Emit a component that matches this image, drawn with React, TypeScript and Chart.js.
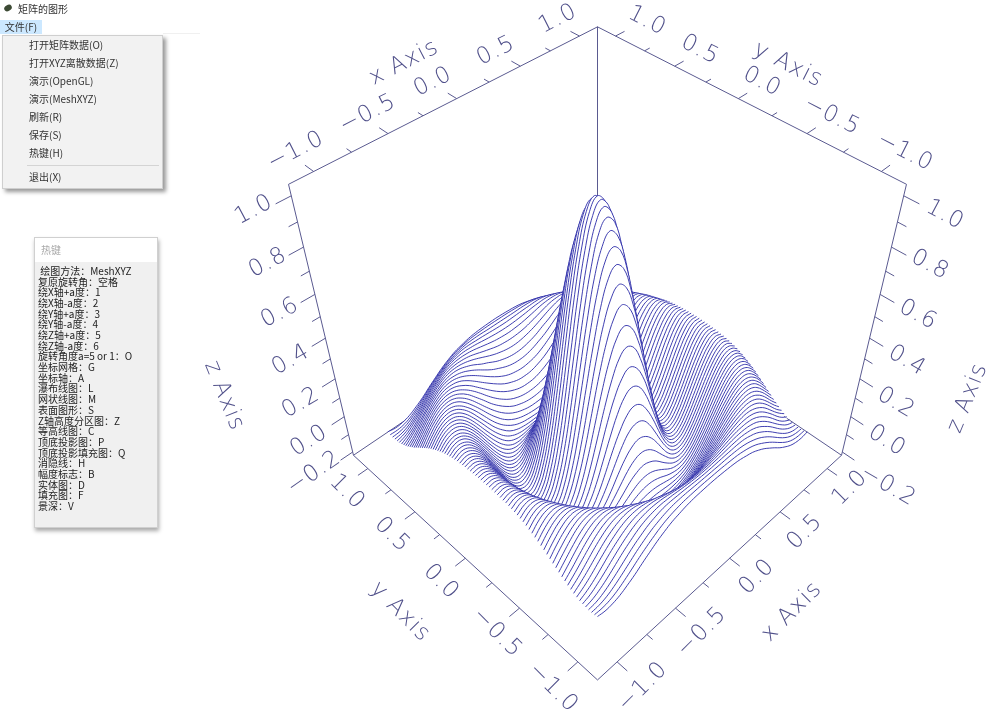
import React, { useEffect, useRef } from 'react';
import Chart from 'chart.js/auto';

// grid of the waterfall lines (same units as the source matrix, -8..8)
const gridX = [-8,-7.5,-7,-6.5,-6,-5.5,-5,-4.5,-4,-3.5,-3,-2.5,-2,-1.5,-1,-0.5,0,0.5,1,1.5,2,2.5,3,3.5,4,4.5,5,5.5,6,6.5,7,7.5,8];
const yLines = [-8,-7.8,-7.6,-7.4,-7.2,-7,-6.8,-6.6,-6.4,-6.2,-6,-5.8,-5.6,-5.4,-5.2,-5,-4.8,-4.6,-4.4,-4.2,-4,-3.8,-3.6,-3.4,-3.2,-3,-2.8,-2.6,-2.4,-2.2,-2,-1.8,-1.6,-1.4,-1.2,-1,-0.8,-0.6,-0.4,-0.2,0,0.2,0.4,0.6,0.8,1,1.2,1.4,1.6,1.8,2,2.2,2.4,2.6,2.8,3,3.2,3.4,3.6,3.8,4,4.2,4.4,4.6,4.8,5,5.2,5.4,5.6,5.8,6,6.2,6.4,6.6,6.8,7,7.2,7.4,7.6,7.8,8];

// surface heights in thousandths, one list per |y| step
const row00 = [124,125,94,33,-47,-128,-192,-217,-189,-100,47,239,455,665,841,959,1000,959,841,665,455,239,47,-100,-189,-217,-192,-128,-47,33,94,125,124];
const row01 = [124,125,94,33,-47,-128,-192,-217,-190,-102,44,235,451,661,835,952,993,952,835,661,451,235,44,-102,-190,-217,-192,-128,-47,33,94,125,124];
const row02 = [123,125,95,34,-45,-126,-190,-217,-191,-105,36,226,437,644,816,933,974,933,816,644,437,226,36,-105,-191,-217,-190,-126,-45,34,95,125,123];
const row03 = [123,125,96,37,-42,-123,-188,-217,-195,-113,26,210,416,616,786,902,941,902,786,616,416,210,26,-113,-195,-217,-188,-123,-42,37,96,125,123];
const row04 = [122,126,98,40,-39,-119,-186,-216,-198,-121,10,189,389,583,749,856,897,856,749,583,389,189,10,-121,-198,-216,-186,-119,-39,40,98,126,122];
const row05 = [121,126,100,44,-34,-114,-181,-216,-202,-131,-6,162,351,541,699,805,841,805,699,541,351,162,-6,-131,-202,-216,-181,-114,-34,44,100,126,121];
const row06 = [120,127,103,48,-26,-108,-177,-213,-206,-143,-27,131,312,488,640,741,777,741,640,488,312,131,-27,-143,-206,-213,-177,-108,-26,48,103,127,120];
const row07 = [118,127,105,54,-20,-99,-171,-212,-210,-155,-50,95,265,433,575,669,704,669,575,433,265,95,-50,-155,-210,-212,-171,-99,-20,54,105,127,118];
const row08 = [116,127,108,59,-11,-91,-164,-208,-213,-169,-75,57,214,372,503,591,625,591,503,372,214,57,-75,-169,-213,-208,-164,-91,-11,59,108,127,116];
const row09 = [115,128,112,66,-3,-81,-155,-204,-216,-182,-100,20,162,306,428,510,541,510,428,306,162,20,-100,-182,-216,-204,-155,-81,-3,66,112,128,115];
const row10 = [112,128,115,73,6,-72,-145,-199,-217,-192,-125,-18,109,239,351,428,455,428,351,239,109,-18,-125,-192,-217,-199,-145,-72,6,73,115,128,112];
const row11 = [109,128,119,79,17,-60,-134,-191,-216,-202,-147,-56,57,174,274,341,368,341,274,174,57,-56,-147,-202,-216,-191,-134,-60,17,79,119,128,109];
const row12 = [105,127,121,87,27,-47,-120,-181,-213,-210,-167,-92,7,108,198,259,281,259,198,108,7,-92,-167,-210,-213,-181,-120,-47,27,87,121,127,105];
const row13 = [101,125,125,94,38,-34,-106,-170,-209,-215,-186,-125,-42,47,123,178,198,178,123,47,-42,-125,-186,-215,-209,-170,-106,-34,38,94,125,125,101];
const row14 = [96,123,126,101,50,-18,-91,-157,-202,-217,-200,-152,-86,-12,57,105,120,105,57,-12,-86,-152,-200,-217,-202,-157,-91,-18,50,101,126,123,96];
const row15 = [91,120,127,107,62,-3,-75,-141,-192,-216,-210,-178,-125,-62,-6,32,47,32,-6,-62,-125,-178,-210,-216,-192,-141,-75,-3,62,107,127,120,91];
const row16 = [84,117,128,114,73,12,-57,-125,-179,-211,-216,-195,-155,-108,-62,-30,-18,-30,-62,-108,-155,-195,-216,-211,-179,-125,-57,12,73,114,128,117,84];
const row17 = [76,113,128,119,84,30,-39,-106,-164,-202,-217,-209,-182,-147,-110,-86,-75,-86,-110,-147,-182,-209,-217,-202,-164,-106,-39,30,84,119,128,113,76];
const row18 = [69,108,127,123,94,43,-20,-87,-146,-190,-213,-215,-202,-176,-150,-130,-123,-130,-150,-176,-202,-215,-213,-190,-146,-87,-20,43,94,123,127,108,69];
const row19 = [60,101,125,126,103,58,-2,-66,-125,-173,-205,-217,-212,-199,-180,-166,-161,-166,-180,-199,-212,-217,-205,-173,-125,-66,-2,58,103,126,125,101,60];
const row20 = [52,94,121,127,111,73,18,-44,-103,-154,-192,-212,-217,-211,-201,-192,-189,-192,-201,-211,-217,-212,-192,-154,-103,-44,18,73,111,127,121,94,52];
const row21 = [42,85,116,128,118,86,37,-20,-80,-133,-175,-201,-214,-217,-214,-209,-207,-209,-214,-217,-214,-201,-175,-133,-80,-20,37,86,118,128,116,85,42];
const row22 = [32,76,111,127,123,98,56,1,-55,-109,-152,-186,-205,-214,-217,-216,-216,-216,-217,-214,-205,-186,-152,-109,-55,1,56,98,123,127,111,76,32];
const row23 = [21,66,103,125,126,107,71,24,-30,-84,-130,-165,-190,-205,-212,-215,-216,-215,-212,-205,-190,-165,-130,-84,-30,24,71,107,126,125,103,66,21];
const row24 = [10,57,95,120,128,117,87,44,-5,-57,-103,-142,-170,-189,-200,-206,-208,-206,-200,-189,-170,-142,-103,-57,-5,44,87,117,128,120,95,57,10];
const row25 = [-1,45,85,115,128,123,100,64,18,-30,-75,-114,-145,-167,-181,-190,-192,-190,-181,-167,-145,-114,-75,-30,18,64,100,123,128,115,85,45,-1];
const row26 = [-12,32,74,108,125,126,111,82,41,-2,-47,-85,-117,-142,-157,-167,-170,-167,-157,-142,-117,-85,-47,-2,41,82,111,126,125,108,74,32,-12];
const row27 = [-23,20,62,98,121,128,119,96,64,25,-17,-55,-87,-113,-130,-140,-143,-140,-130,-113,-87,-55,-17,25,64,96,119,128,121,98,62,20,-23];
const row28 = [-35,7,50,87,114,127,125,108,82,47,11,-24,-55,-80,-98,-110,-113,-110,-98,-80,-55,-24,11,47,82,108,125,127,114,87,50,7,-35];
const row29 = [-44,-6,36,75,105,124,127,119,98,69,37,6,-23,-48,-65,-77,-80,-77,-65,-48,-23,6,37,69,98,119,127,124,105,75,36,-6,-44];
const row30 = [-54,-18,22,61,95,118,128,125,111,89,62,33,6,-17,-34,-43,-47,-43,-34,-17,6,33,62,89,111,125,128,118,95,61,22,-18,-54];
const row31 = [-63,-31,8,48,83,110,125,127,120,104,83,58,34,16,0,-10,-13,-10,0,16,34,58,83,104,120,127,125,110,83,48,8,-31,-63];
const row32 = [-71,-41,-6,32,69,98,118,128,127,116,100,79,62,43,30,21,18,21,30,43,62,79,100,116,127,128,118,98,69,32,-6,-41,-71];
const row33 = [-78,-53,-20,18,54,86,110,124,128,124,114,100,84,69,58,50,47,50,58,69,84,100,114,124,128,124,110,86,54,18,-20,-53,-78];
const row34 = [-84,-63,-34,2,39,71,98,117,126,127,123,113,101,90,80,75,73,75,80,90,101,113,123,127,126,117,98,71,39,2,-34,-63,-84];
const row35 = [-87,-72,-45,-13,22,56,85,108,121,127,127,123,115,107,100,96,94,96,100,107,115,123,127,127,121,108,85,56,22,-13,-45,-72,-87];
const row36 = [-90,-79,-57,-28,6,40,69,95,113,123,128,127,124,119,115,112,111,112,115,119,124,127,128,123,113,95,69,40,6,-28,-57,-79,-90];
const row37 = [-91,-85,-68,-42,-11,22,53,79,101,115,125,128,127,126,124,122,121,122,124,126,127,128,125,115,101,79,53,22,-11,-42,-68,-85,-91];
const row38 = [-91,-88,-76,-54,-26,5,36,63,86,103,116,124,127,128,127,127,127,127,127,128,127,124,116,103,86,63,36,5,-26,-54,-76,-88,-91];
const row39 = [-89,-90,-83,-66,-41,-12,18,45,69,90,105,115,122,125,127,128,128,128,127,125,122,115,105,90,69,45,18,-12,-41,-66,-83,-90,-89];
const row40 = [-84,-91,-87,-75,-54,-30,-1,26,52,73,91,102,112,118,121,123,124,123,121,118,112,102,91,73,52,26,-1,-30,-54,-75,-87,-91,-84];

// one list per entry of yLines, front line first
const lineRows = [
  row40,row39,row38,row37,row36,row35,row34,row33,row32,row31,row30,row29,row28,row27,row26,row25,row24,row23,row22,row21,
  row20,row19,row18,row17,row16,row15,row14,row13,row12,row11,row10,row09,row08,row07,row06,row05,row04,row03,row02,row01,
  row00,
  row01,row02,row03,row04,row05,row06,row07,row08,row09,row10,row11,row12,row13,row14,row15,row16,row17,row18,row19,row20,
  row21,row22,row23,row24,row25,row26,row27,row28,row29,row30,row31,row32,row33,row34,row35,row36,row37,row38,row39,row40,
];

const axisTicks = [-1,-0.75,-0.5,-0.25,0,0.25,0.5,0.75,1];
const heightTicks = [-0.2,-0.1,0,0.1,0.2,0.3,0.4,0.5,0.6,0.7,0.8,0.9,1];

const menuItems = ['打开矩阵数据(O)','打开XYZ离散数据(Z)','演示(OpenGL)','演示(MeshXYZ)','刷新(R)','保存(S)','热键(H)'];
const hotkeys = [
  ' 绘图方法：MeshXYZ','复原旋转角：空格','绕X轴+a度：1','绕X轴-a度：2','绕Y轴+a度：3','绕Y轴-a度：4','绕Z轴+a度：5','绕Z轴-a度：6',
  '旋转角度a=5 or 1：O','坐标网格：G','坐标轴：A','瀑布线图：L','网状线图：M','表面图形：S','Z轴高度分区图：Z','等高线图：C',
  '顶底投影图：P','顶底投影填充图：Q','消隐线：H','幅度标志：B','实体图：D','填充图：F','景深：V',
];

// text, centre x, centre y, rotation in degrees
const axisLabels: [string, number, number, number][] = [
  ['−1.0',296,151,-27],['−0.5',368,114,-27],['0.0',433,82,-27],['0.5',496,51,-27],['1.0',558,19,-27],['x Axis',404,63,-27],
  ['1.0',647,21,27],['0.5',700,50,27],['0.0',762,82,27],['−0.5',832,116,27],['−1.0',905,152,27],['y Axis',788,65,27],
  ['1.0',254,210,-28],['0.8',268,263,-28],['0.6',280,313,-28],['0.4',291,360,-30],['0.2',301,403,-30],['0.0',309,441,-32],['−0.2',314,473,-35],
  ['1.0',945,215,28],['0.8',930,265,28],['0.6',918,315,28],['0.4',907,361,30],['0.2',896,403,30],['0.0',887,441,32],['−0.2',888,486,30],
  ['z Axis',224,396,68],['z Axis',968,398,-68],
  ['1.0',347,492,45],['0.5',392,535,45],['0.0',441,582,45],['−0.5',497,633,45],['−1.0',553,688,45],['y Axis',400,612,45],
  ['1.0',850,488,-45],['0.5',805,532,-45],['0.0',757,577,-45],['−0.5',702,632,-45],['−1.0',643,687,-45],['x Axis',792,612,-45],
];

// camera fitted to the box corners in the picture
const SIN_E = 0.704, COS_E = 0.71, DIST = 5.85, FOCAL = 1128, CX = 597.5, CY = 335.7;
const BOX_H = 0.976, TICK_SCALE = 1 / 1.16, SURFACE_SCALE = 0.84 / 8;
const boxZ = (z: number) => 0.91 + (z - 1) * 1.547;

function project(nx: number, ny: number, nz: number) {
  const s = (nx - ny) / Math.SQRT2;
  const t = (nx + ny) / Math.SQRT2;
  const v = t * SIN_E + nz * COS_E;
  const w = -t * COS_E + nz * SIN_E;
  const k = FOCAL / (DIST - w);
  return { x: CX + s * k, y: CY - v * k };
}

const GAP = { x: NaN, y: NaN };
const AXIS_COLOR = '#5a5a90';
const MESH_COLOR = '#2a2aa8';

function buildTicks() {
  const pts: { x: number; y: number }[] = [];
  const seg = (a: number[], b: number[]) => pts.push(project(a[0], a[1], a[2]), project(b[0], b[1], b[2]), GAP);
  axisTicks.forEach(t => {
    const len = Number.isInteger(t * 2) ? 0.07 : 0.04;
    const p = t * TICK_SCALE;
    seg([p, 1, BOX_H], [p, 1 + len, BOX_H]);
    seg([p, -1, -BOX_H], [p, -1 - len, -BOX_H]);
    seg([-1, p, -BOX_H], [-1 - len, p, -BOX_H]);
    seg([1, p, BOX_H], [1 + len, p, BOX_H]);
  });
  heightTicks.forEach((z, i) => {
    const len = i % 2 === 0 ? 0.085 : 0.05;
    seg([-1, 1, boxZ(z)], [-1 - len, 1, boxZ(z)]);
    seg([1, -1, boxZ(z)], [1, -1 - len, boxZ(z)]);
  });
  return pts;
}

function edges(list: number[][][]) {
  const pts: { x: number; y: number }[] = [];
  list.forEach(([a, b]) => pts.push(project(a[0], a[1], a[2]), project(b[0], b[1], b[2]), GAP));
  return pts;
}

const labelPlugin = {
  id: 'axisText',
  afterDatasetsDraw(chart: any) {
    const ctx = chart.ctx;
    ctx.save();
    ctx.fillStyle = '#50508a';
    ctx.font = '200 23px "DejaVu Sans"';
    ctx.textAlign = 'center';
    ctx.textBaseline = 'middle';
    ctx.letterSpacing = '1px';
    axisLabels.forEach(([text, x, y, deg]) => {
      ctx.save();
      ctx.translate(x, y);
      ctx.rotate((deg * Math.PI) / 180);
      ctx.fillText(text, 0, 0);
      ctx.restore();
    });
    ctx.restore();
  },
};

const cjk = '"Noto Sans CJK SC", "Noto Sans", sans-serif';

export default function App() {
  const canvasRef = useRef<HTMLCanvasElement>(null);

  useEffect(() => {
    if (!canvasRef.current) return;
    const lineStyle = { showLine: true, pointRadius: 0, borderWidth: 1, fill: false, tension: 0 };

    const frontBox = edges([
      [[-1, 1, -BOX_H], [-1, -1, -BOX_H]],
      [[-1, -1, -BOX_H], [1, -1, -BOX_H]],
    ]);
    const backBox = edges([
      [[-1, 1, BOX_H], [1, 1, BOX_H]],
      [[1, 1, BOX_H], [1, -1, BOX_H]],
      [[1, 1, BOX_H], [1, 1, -BOX_H]],
      [[-1, 1, BOX_H], [-1, 1, -BOX_H]],
      [[1, -1, BOX_H], [1, -1, -BOX_H]],
      [[-1, 1, -BOX_H], [1, 1, -BOX_H]],
      [[1, 1, -BOX_H], [1, -1, -BOX_H]],
    ]);

    // chart.js paints the last dataset first, so front lines come first
    const surface = yLines.map((y, i) => ({
      label: 'y=' + y,
      data: gridX.map((x, j) => project(x * SURFACE_SCALE, y * SURFACE_SCALE, boxZ(lineRows[i][j] / 1000))),
      showLine: true,
      pointRadius: 0,
      borderWidth: 0.9,
      borderColor: MESH_COLOR,
      backgroundColor: '#ffffff',
      fill: { value: 725 },
      tension: 0.4,
    }));

    const chart = new Chart(canvasRef.current, {
      type: 'scatter',
      data: {
        datasets: [
          { label: 'front box', data: frontBox, borderColor: AXIS_COLOR, ...lineStyle },
          { label: 'ticks', data: buildTicks(), borderColor: AXIS_COLOR, ...lineStyle },
          ...surface,
          { label: 'back box', data: backBox, borderColor: AXIS_COLOR, ...lineStyle },
        ] as any,
      },
      options: {
        responsive: false,
        animation: false,
        devicePixelRatio: 1,
        layout: { padding: 0 },
        scales: {
          x: { type: 'linear', min: 0, max: 1000, display: false },
          y: { type: 'linear', min: 0, max: 725, reverse: true, display: false },
        },
        plugins: {
          legend: { display: false },
          tooltip: { enabled: false },
          filler: { drawTime: 'beforeDatasetDraw' },
        },
      } as any,
      plugins: [labelPlugin],
    });

    return () => chart.destroy();
  }, []);

  return (
    <div style={{ position: 'absolute', left: 0, top: 0, width: 1000, height: 725, background: '#fff', overflow: 'hidden', fontFamily: cjk, color: '#333' }}>
      <canvas ref={canvasRef} width={1000} height={725} style={{ position: 'absolute', left: 0, top: 0 }} />

      {/* window title and menu bar */}
      <div style={{ position: 'absolute', left: 4, top: 5, width: 8, height: 6, borderRadius: '50%', background: '#3c4a34', transform: 'rotate(-30deg)' }} />
      <div style={{ position: 'absolute', left: 18, top: 2, fontSize: 10, lineHeight: '14px' }}>矩阵的图形</div>
      <div style={{ position: 'absolute', left: 0, top: 20, width: 42, height: 14, background: '#cce8ff', fontSize: 10, lineHeight: '14px', textAlign: 'center' }}>文件(F)</div>
      <div style={{ position: 'absolute', left: 163, top: 33, width: 37, height: 1, background: '#f0f0f0' }} />

      {/* file menu */}
      <div style={{ position: 'absolute', left: 2, top: 35, width: 161, height: 154, background: '#f2f2f2', border: '1px solid #cfcfcf', boxSizing: 'border-box', boxShadow: '3px 3px 4px #999' }}>
        {menuItems.map((item, i) => (
          <div key={item} style={{ position: 'absolute', left: 26, top: 2 + i * 18, fontSize: 10, lineHeight: '14px', whiteSpace: 'nowrap' }}>{item}</div>
        ))}
        <div style={{ position: 'absolute', left: 24, right: 3, top: 129, height: 1, background: '#d4d4d4' }} />
        <div style={{ position: 'absolute', left: 26, top: 134, fontSize: 10, lineHeight: '14px' }}>退出(X)</div>
      </div>

      {/* hotkey panel */}
      <div style={{ position: 'absolute', left: 34, top: 237, width: 124, height: 291, background: '#f0f0f0', border: '1px solid #d0d0d0', boxSizing: 'border-box', boxShadow: '1px 3px 4px #aaa' }}>
        <div style={{ position: 'absolute', left: 0, top: 0, right: 0, height: 24, background: '#fff', color: '#aaa', fontSize: 10, lineHeight: '24px', paddingLeft: 6 }}>热键</div>
        {hotkeys.map((line, i) => (
          <div key={line} style={{ position: 'absolute', left: 3, top: 27 + i * 10.68, fontSize: 10, lineHeight: '11px', whiteSpace: 'pre', color: '#222' }}>{line}</div>
        ))}
      </div>
    </div>
  );
}
